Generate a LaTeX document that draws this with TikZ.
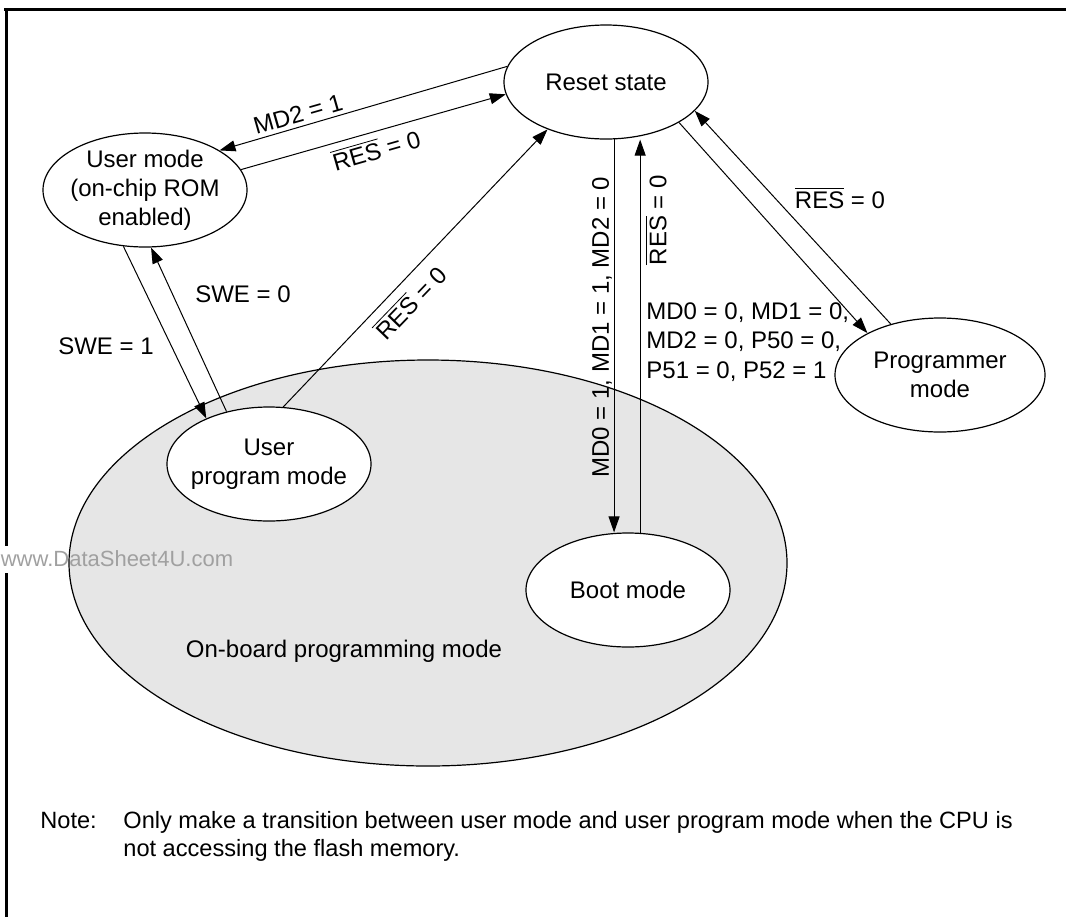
\documentclass[tikz,border=0pt]{standalone}
\usepackage{fontspec}
\setmainfont{Liberation Sans}
\usepackage{tikz}
\usetikzlibrary{arrows.meta,shapes.geometric}

\definecolor{boardgray}{RGB}{230,230,230}
\definecolor{markgray}{RGB}{160,160,160}
\newcommand{\resbar}{$\overline{\mbox{RES}}$}

\begin{document}
\begin{tikzpicture}[x=0.5pt,y=-0.5pt,
  state/.style={draw,ellipse,fill=white,line width=0.6pt,inner xsep=-6pt,inner ysep=-2pt,
    minimum width=102pt,minimum height=57pt,align=center,font=\fontsize{12}{14.5}\selectfont},
  arr/.style={-{Triangle[length=8pt,width=5.5pt]},line width=0.5pt},
  lbl/.style={font=\fontsize{12}{14.8}\selectfont,inner sep=0pt},
  note/.style={font=\fontsize{11.8}{14}\selectfont,inner sep=0pt}]

\useasboundingbox (0,0) rectangle (1066,917);

% Frame
\draw[line width=1.5pt] (4,9) -- (1066,9);
\draw[line width=1.5pt] (6,9) -- (6,546);
\draw[line width=1.5pt] (6,573) -- (6,917);

% On-board programming area
\node[draw,ellipse,fill=boardgray,line width=0.6pt,minimum width=359pt,minimum height=203pt] (board) at (428,563) {};
\node[lbl] (boardtxt) at (344,651) {On-board programming mode};
\node[font=\fontsize{11}{13}\selectfont,text=markgray,inner sep=0pt] (mark) at (117,559) {www.DataSheet4U.com};

% States
\node[state] (reset) at (606,82) {Reset state};
\node[state] (user) at (145,190) {User mode\\(on-chip ROM\\enabled)};
\node[state] (uprog) at (269,464) {User\\program mode};
\node[state] (boot) at (628,590) {Boot mode};
\node[state,minimum width=105pt] (prog) at (940,375) {Programmer\\mode};

% Reset state and user mode
\draw[arr] (reset.171) -- (user.28);
\draw[arr] (user.12) -- (reset.187);
\node[lbl,rotate=16] (md2) at (298,114) {MD2 = 1};
\node[lbl,rotate=16] (resuser) at (376,149) {\resbar{} = 0};

% User mode and user program mode
\draw[arr] (user.249) -- (uprog.144);
\draw[arr] (uprog.129) -- (user.276);
\node[lbl] (swe0) at (243,294) {SWE = 0};
\node[lbl] (swe1) at (106,346) {SWE = 1};
\draw[arr] (uprog.76) -- (reset.219);
\node[lbl,rotate=46] (resuprog) at (410,302) {\resbar{} = 0};

% Boot mode
\draw[arr] (reset.278) -- (reset.278 |- boot.north);
\draw[arr] (boot.78) -- (boot.78 |- reset.south);
\node[lbl,rotate=90] (mdboot) at (602,327) {MD0 = 1, MD1 = 1, MD2 = 0};
\node[lbl,rotate=90] (resboot) at (656,220) {\resbar{} = 0};

% Programmer mode
\draw[arr] (reset.331) -- (prog.150);
\draw[arr] (prog.134) -- (reset.342);
\node[lbl,anchor=west,align=left] (mdprog) at (646,342) {MD0 = 0, MD1 = 0,\\MD2 = 0, P50 = 0,\\P51 = 0, P52 = 1};
\node[lbl] (resprog) at (840,198) {\resbar{} = 0};

% Note
\node[note,anchor=base west] (notehead) at (40,828) {Note:};
\node[note,anchor=north west,align=left] (notetext) at (notehead.north -| 123,0)
  {Only make a transition between user mode and user program mode when the CPU is\\not accessing the flash memory.};

\end{tikzpicture}
\end{document}
